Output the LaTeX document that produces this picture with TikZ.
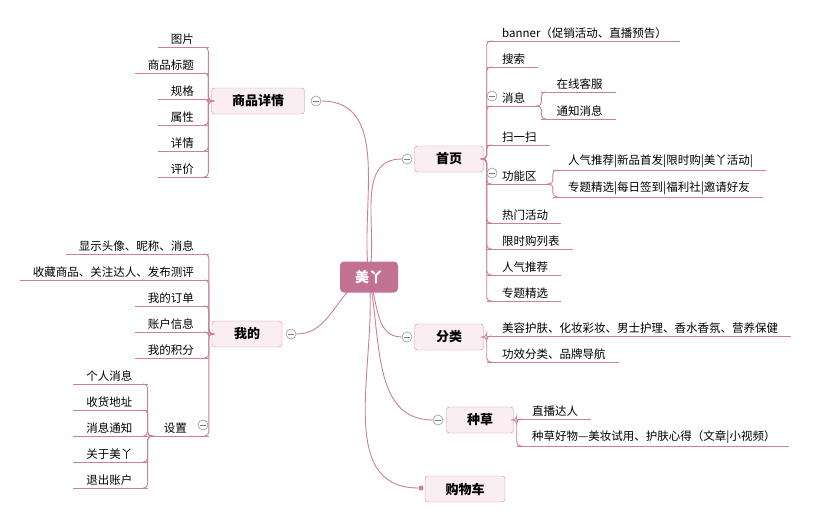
\documentclass[tikz,border=0pt]{standalone}
\usepackage{fontspec}
\setmainfont{Noto Sans CJK SC}
\usetikzlibrary{calc,backgrounds}
\definecolor{mainc}{RGB}{193,114,146}
\definecolor{lnc}{RGB}{203,128,158}
\definecolor{boxf}{RGB}{250,238,243}
\definecolor{boxd}{RGB}{205,140,166}
\tikzset{
  ln/.style={draw=lnc,line width=0.9pt},
  leaf/.style={inner xsep=0pt,inner ysep=2.5pt,font=\fontsize{11.5}{13}\selectfont},
  mbox/.style={draw=boxd,fill=boxf,rounded corners=3pt,minimum height=26pt,inner sep=2pt,font=\fontsize{13}{15}\selectfont\bfseries},
  coll/.style={circle,draw=gray!80,fill=white,minimum size=10pt,inner sep=0pt,line width=0.6pt,
    path picture={\draw[gray,line width=0.7pt] ([xshift=-3pt]path picture bounding box.center) -- ([xshift=3pt]path picture bounding box.center);}},
}
\newcommand\leafR[3]{\node[leaf,anchor=south west] (#1) at (#2) {\hspace*{15pt}#3\hspace*{13pt}};
  \draw[ln] (#1.south west) -- (#1.south east);}
\newcommand\leafL[3]{\node[leaf,anchor=south east] (#1) at (#2) {\hspace*{13pt}#3\hspace*{15pt}};
  \draw[ln] (#1.south west) -- (#1.south east);}
\newcommand\brR[2]{\draw[ln,rounded corners=4pt] (#1) -- ++(3,0) |- ($(#2.south west)+(5,0)$);}
\newcommand\brL[2]{\draw[ln,rounded corners=4pt] (#1) -- ++(-3,0) |- ($(#2.south east)+(-5,0)$);}
\begin{document}
\begin{tikzpicture}[x=1pt,y=1pt]
\useasboundingbox (0,0) rectangle (822,-522);
% center
\node[fill=mainc,rounded corners=4pt,minimum width=58pt,minimum height=31pt,text=white,font=\fontsize{14}{16}\selectfont\bfseries] (m) at (369,-277) {美丫};
% main nodes
\node[coll] (c1) at (407,-159) {};
\node[mbox,minimum width=69pt] (sy) at (449,-159) {首页};
\node[coll] (c2) at (407,-337) {};
\node[mbox,minimum width=69pt] (fl) at (449,-337) {分类};
\node[coll] (c3) at (438,-420) {};
\node[mbox,minimum width=67pt] (zc) at (480,-420) {种草};
\node[circle,fill=lnc,minimum size=5pt,inner sep=0pt] (c4) at (421,-488) {};
\node[mbox,minimum width=80pt] (gwc) at (465,-489) {购物车};
\node[coll] (c5) at (316,-101) {};
\node[mbox,minimum width=93pt] (xq) at (258,-101) {商品详情};
\node[coll] (c6) at (291,-334) {};
\node[mbox,minimum width=70pt] (wd) at (247,-334) {我的};
\begin{scope}[on background layer]
\fill[white] (0,0) rectangle (822,-522);
\draw[ln] (m.center) to[out=78,in=180] (c1.west);
\draw[ln] (m.center) to[out=-70,in=180] (c2.west);
\draw[ln] (m.center) to[out=-78,in=180] (c3.west);
\draw[ln] (m.center) to[out=-84,in=180] (c4.west);
\draw[ln] (m.center) to[out=98,in=0] (c5.east);
\draw[ln] (m.center) to[out=200,in=0] (c6.east);
\end{scope}
% 首页 leaves
\leafR{a1}{487,-41}{banner（促销活动、直播预告）}
\leafR{a2}{487,-67}{搜索}
\leafR{a3}{487,-106}{消息}
\leafR{a4}{487,-145}{扫一扫}
\leafR{a5}{487,-184}{功能区}
\leafR{a6}{487,-223}{热门活动}
\leafR{a7}{487,-249}{限时购列表}
\leafR{a8}{487,-275}{人气推荐}
\leafR{a9}{487,-301}{专题精选}
\foreach \n in {a1,a2,a3,a4,a5,a6,a7,a8,a9} {\brR{sy.east}{\n}}
\leafR{b1}{$(a3.south east)+(3,14)$}{在线客服}
\leafR{b2}{$(a3.south east)+(3,-13)$}{通知消息}
\brR{a3.south east}{b1}\brR{a3.south east}{b2}
\leafR{b3}{$(a5.south east)+(3,14)$}{人气推荐|新品首发|限时购|美丫活动|}
\leafR{b4}{$(a5.south east)+(3,-13)$}{专题精选|每日签到|福利社|邀请好友}
\brR{a5.south east}{b3}\brR{a5.south east}{b4}
\node[coll] (c7) at (492,-96) {};
\node[coll] (c8) at (492,-173) {};
% 分类
\leafR{d1}{487,-336}{美容护肤、化妆彩妆、男士护理、香水香氛、营养保健}
\leafR{d2}{487,-362}{功效分类、品牌导航}
\brR{fl.east}{d1}\brR{fl.east}{d2}
% 种草
\leafR{e1}{517,-419}{直播达人}
\leafR{e2}{517,-446}{种草好物—美妆试用、护肤心得（文章|小视频）}
\brR{zc.east}{e1}\brR{zc.east}{e2}
% 商品详情
\leafL{f1}{209,-47}{图片}
\leafL{f2}{209,-73}{商品标题}
\leafL{f3}{209,-99}{规格}
\leafL{f4}{209,-125}{属性}
\leafL{f5}{209,-151}{详情}
\leafL{f6}{209,-177}{评价}
\foreach \n in {f1,f2,f3,f4,f5,f6} {\brL{xq.west}{\n}}
% 我的
\leafL{g1}{209,-254}{显示头像、昵称、消息}
\leafL{g2}{209,-280}{收藏商品、关注达人、发布测评}
\leafL{g3}{209,-306}{我的订单}
\leafL{g4}{209,-332}{账户信息}
\leafL{g5}{209,-358}{我的积分}
\node[leaf,anchor=south east] (g6) at (209,-436) {\hspace*{13pt}设置\hspace*{22pt}};
\draw[ln] (g6.south west) -- (g6.south east);
\foreach \n in {g1,g2,g3,g4,g5,g6} {\brL{wd.west}{\n}}
\node[coll] (c9) at (203,-425) {};
\leafL{h1}{$(g6.south west)+(-3,52)$}{个人消息}
\leafL{h2}{$(g6.south west)+(-3,26)$}{收货地址}
\leafL{h3}{$(g6.south west)+(-3,0)$}{消息通知}
\leafL{h4}{$(g6.south west)+(-3,-26)$}{关于美丫}
\leafL{h5}{$(g6.south west)+(-3,-52)$}{退出账户}
\foreach \n in {h1,h2,h3,h4,h5} {\brL{g6.south west}{\n}}
\end{tikzpicture}
\end{document}
